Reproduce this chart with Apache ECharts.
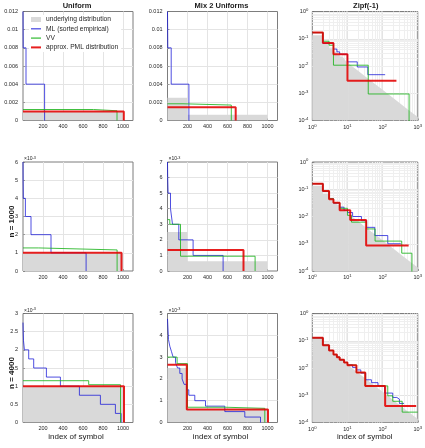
<!DOCTYPE html>
<html>
<head>
<meta charset="utf-8">
<script src="https://cdn.jsdelivr.net/npm/echarts@6/dist/echarts.min.js"></script>
<style>
  html, body { margin: 0; padding: 0; background: #fff; }
  #chart { width: 425px; height: 448px; }
</style>
</head>
<body>
<div id="chart"></div>
<script>
const FONT = "'Liberation Sans', Arial, Helvetica, sans-serif";

const colTitles = ["Uniform", "Mix 2 Uniforms", "Zipf(-1)"];
const rowLabels = ["", "n = 1000", "n = 4000"];
const xLabel = "index of symbol";
const names = ["underlying distribution", "ML (sorted empirical)", "VV", "approx. PML distribution"];

// every curve is a stair: [first symbol index, probability] pairs
const uniformTrue = [[0, 0.001], [1000, 0]];
const mixTrue = [[0, 0.0025], [200, 0.000625], [1000, 0]];
const zipfTrueHead = [[1, 0.1336], [2, 0.0668], [3, 0.0445], [4, 0.0334], [5, 0.0267], [6, 0.0223], [7, 0.0191], [8, 0.0167], [9, 0.0148], [10, 0.0134], [11, 0.0121]];
const zipfTrueTail = [[11, 0.0121], [20, 0.00668], [50, 0.00267], [100, 0.001336], [200, 0.000668], [500, 0.000267], [1000, 0.0001336]];

// top row (small sample)
const uniA_ml = [[0, 0.012], [2, 0.008], [30, 0.004], [216, 0]];
const uniA_vv = [[0, 0.00121], [705, 0.00107], [940, 0]];
const uniA_pml = [[0, 0.00099], [1008, 0]];
const mixA_ml = [[0, 0.012], [3, 0.008], [37, 0.004], [214, 0]];
const mixA_vv = [[0, 0.00184], [155, 0.0017], [638, 0]];
const mixA_pml = [[0, 0.00147], [682, 0]];
const zipfA_ml = [[1, 0.168], [2, 0.068], [4, 0.042], [5, 0.033], [6, 0.027], [10, 0.0142], [19, 0.0092], [38, 0.0048], [118, 0.0048]];
const zipfA_vv = [[1, 0.168], [2, 0.081], [3, 0.058], [4, 0.0107], [39, 0.00094], [566, 0.00001]];
const zipfA_pml = [[1, 0.17], [2, 0.07], [4, 0.027], [10, 0.0029], [247, 0.0029]];

// n = 1000
const uniB_ml = [[0, 0.006], [1, 0.005], [3, 0.004], [24, 0.003], [80, 0.002], [280, 0.001], [631, 0]];
const uniB_vv = [[0, 0.00127], [157, 0.00116], [941, 0]];
const uniB_pml = [[0, 0.001], [985, 0]];
const mixB_ml = [[0, 0.007], [2, 0.006], [6, 0.005], [30, 0.004], [50, 0.003], [113, 0.002], [256, 0.001], [556, 0]];
const mixB_vv = [[0, 0.0033], [23, 0.003], [130, 0.00095], [876, 0]];
const mixB_pml = [[0, 0.00135], [760, 0]];
const zipfB_ml = [[1, 0.16], [2, 0.083], [3, 0.045], [4, 0.031], [6, 0.022], [8, 0.017], [10, 0.014], [14, 0.01], [25, 0.007], [35, 0.004], [60, 0.002], [140, 0.001], [330, 0.001]];
const zipfB_vv = [[1, 0.16], [2, 0.086], [3, 0.045], [4, 0.032], [6, 0.02], [10, 0.011], [13, 0.0062], [35, 0.0035], [61, 0.00125], [350, 0.00045], [680, 0.00001]];
const zipfB_pml = [[1, 0.16], [2, 0.086], [3, 0.0427], [4, 0.032], [6, 0.0168], [12, 0.0074], [34, 0.00087], [550, 0.00087]];

// n = 4000
const uniC_ml = [[0, 0.00275], [2, 0.0025], [5, 0.00225], [14, 0.002], [57, 0.00175], [107, 0.0015], [234, 0.00125], [374, 0.001], [564, 0.00075], [774, 0.0005], [924, 0.00025], [981, 0]];
const uniC_vv = [[0, 0.00115], [657, 0.00104], [975, 0]];
const uniC_pml = [[0, 0.001], [1010, 0]];
const mixC_ml = [[0, 0.00475], [10, 0.0038], [23, 0.0035], [40, 0.00325], [56, 0.003], [80, 0.00275], [100, 0.0025], [123, 0.00225], [146, 0.002], [166, 0.00175], [190, 0.0015], [213, 0.00125], [273, 0.001], [380, 0.00075], [573, 0.0005], [773, 0.00025], [930, 0]];
const mixC_vv = [[0, 0.003], [96, 0.0027], [200, 0.0007], [583, 0.00065], [973, 0]];
const mixC_pml = [[0, 0.00265], [193, 0.0006], [1005, 0]];
const zipfC_ml = [[1, 0.128], [2, 0.069], [3, 0.044], [4, 0.031], [5, 0.025], [6, 0.02], [8, 0.016], [10, 0.013], [14, 0.0105], [18, 0.0085], [24, 0.0065], [33, 0.0037], [48, 0.0029], [74, 0.0022], [114, 0.0012], [194, 0.00083], [254, 0.00072], [300, 0.0005], [406, 0.0005]];
const zipfC_vv = [[1, 0.128], [2, 0.069], [3, 0.044], [4, 0.031], [5, 0.025], [6, 0.02], [8, 0.016], [10, 0.0128], [18, 0.0068], [32, 0.0022], [140, 0.00095], [194, 0.0006], [360, 0.00024], [1000, 0.00024]];
const zipfC_pml = [[1, 0.128], [2, 0.069], [3, 0.044], [4, 0.031], [5, 0.025], [6, 0.02], [8, 0.016], [10, 0.0125], [18, 0.0068], [32, 0.0022], [118, 0.0004], [900, 0.0004]];

const estimates = [
  [[uniA_ml, uniA_vv, uniA_pml], [mixA_ml, mixA_vv, mixA_pml], [zipfA_ml, zipfA_vv, zipfA_pml]],
  [[uniB_ml, uniB_vv, uniB_pml], [mixB_ml, mixB_vv, mixB_pml], [zipfB_ml, zipfB_vv, zipfB_pml]],
  [[uniC_ml, uniC_vv, uniC_pml], [mixC_ml, mixC_vv, mixC_pml], [zipfC_ml, zipfC_vv, zipfC_pml]],
];
const truths = [[uniformTrue], [mixTrue], [zipfTrueHead, zipfTrueTail]];

// layout
const colLeft = [23, 167.5, 312.3];
const rowTop = [11.5, 162, 313.5];
const plotW = [110, 110, 109];
const plotH = 109;
// [max, step, label scale] of the linear y axes
const yRange = [
  [[0.012, 0.002, 1], [0.012, 0.002, 1]],
  [[0.006, 0.001, 1000], [0.007, 0.001, 1000]],
  [[0.003, 0.0005, 1000], [0.005, 0.001, 1000]],
];

const gray = "#d9d9d9";
const colors = ["rgba(20,20,215,0.75)", "rgba(30,180,30,0.85)", "rgba(228,0,0,0.88)"];
const widths = [1, 1, 2];
const gridColor = "#e4e4e4";
const minorColor = "#efefef";

const tickLabel = { fontSize: 5.5, fontFamily: FONT, color: "#262626" };
const powRich = {
  b: { fontSize: 5.5, fontFamily: FONT, color: "#262626" },
  s: { fontSize: 4.2, fontFamily: FONT, color: "#262626", verticalAlign: "bottom", padding: [0, 0, 3.5, 0] },
};
const powLabel = (v) => "{b|10}{s|" + Math.round(Math.log10(v)) + "}";

const grid = [], xAxis = [], yAxis = [], series = [];

for (let r = 0; r < 3; r++) {
  for (let c = 0; c < 3; c++) {
    const k = grid.length;
    const isLog = c === 2;
    grid.push({
      left: colLeft[c], top: rowTop[r], width: plotW[c], height: plotH,
      show: true, borderColor: "#7d7d7d", borderWidth: 1, backgroundColor: "#fff",
    });
    const common = {
      gridIndex: k,
      axisLine: { show: false },
      axisTick: { inside: true, length: 2, lineStyle: { color: "#666", width: 0.6 } },
      splitLine: { show: true, showMinLine: false, showMaxLine: false, lineStyle: { color: gridColor, width: 1 } },
    };
    if (isLog) {
      xAxis.push(Object.assign({}, common, {
        type: "log", logBase: 10, min: 1, max: 1000,
        axisLabel: { margin: 3, formatter: powLabel, rich: powRich },
      }));
      yAxis.push(Object.assign({}, common, {
        type: "log", logBase: 10, min: 0.0001, max: 1,
        axisLabel: { margin: 4, formatter: powLabel, rich: powRich },
      }));
      // minor grid lines at 2..9 of every decade
      const mx = [], my = [];
      for (let d = 0; d < 4; d++) {
        for (let m = 2; m < 10; m++) {
          if (d < 3) mx.push({ xAxis: m * Math.pow(10, d) });
          my.push({ yAxis: m * Math.pow(10, d - 4) });
        }
      }
      series.push({
        type: "line", xAxisIndex: k, yAxisIndex: k, data: [], z: 1, silent: true,
        markLine: {
          silent: true, symbol: ["none", "none"], animation: false, z: 1,
          label: { show: false },
          lineStyle: { color: minorColor, width: 1, type: "solid" },
          data: mx.concat(my),
        },
      });
    } else {
      const [yMax, yStep, scale] = yRange[r][c];
      xAxis.push(Object.assign({}, common, {
        type: "value", min: 0, max: 1100, interval: 200,
        axisLabel: Object.assign({ margin: 3, showMinLabel: false, showMaxLabel: false, formatter: (v) => String(v) }, tickLabel),
      }));
      yAxis.push(Object.assign({}, common, {
        type: "value", min: 0, max: yMax, interval: yStep,
        axisLabel: Object.assign({ margin: 5, formatter: (v) => String(+(v * scale).toFixed(4)) }, tickLabel),
      }));
    }

    truths[c].forEach((d, j) => {
      series.push({
        name: names[0], type: "line", xAxisIndex: k, yAxisIndex: k, data: d,
        step: isLog && j === 1 ? false : "end",
        symbol: "none", silent: true, z: 2,
        lineStyle: { width: 0 }, itemStyle: { color: gray },
        areaStyle: { color: gray, opacity: 1, origin: "start" },
      });
    });
    estimates[r][c].forEach((d, j) => {
      series.push({
        name: names[j + 1], type: "line", xAxisIndex: k, yAxisIndex: k, data: d,
        step: "end", symbol: "none", z: 3 + j,
        lineStyle: { color: colors[j], width: widths[j] }, itemStyle: { color: colors[j] },
      });
    });
  }
}

// titles and axis labels
const graphic = [];
const txt = (text, x, y, font, extra) => Object.assign({
  type: "text", x, y, silent: true,
  style: { text, font, fill: "#1a1a1a", align: "center", verticalAlign: "middle", textAlign: "center", textVerticalAlign: "middle" },
}, extra || {});

colTitles.forEach((t, c) => graphic.push(txt(t, colLeft[c] + plotW[c] / 2 - 1, 5.5, `bold 7.5px ${FONT}`)));
rowLabels.forEach((t, r) => {
  if (t) graphic.push(txt(t, 11.5, rowTop[r] + plotH / 2 + 5, `bold 8px ${FONT}`, { rotation: Math.PI / 2 }));
});
colTitles.forEach((t, c) => graphic.push(txt(xLabel, colLeft[c] + plotW[c] / 2 - 2, 437, `8px ${FONT}`)));
for (let r = 1; r < 3; r++) {
  for (let c = 0; c < 2; c++) {
    graphic.push({
      type: "text", x: colLeft[c] + 1, y: rowTop[r] - 3, silent: true,
      style: {
        text: "{a|×10}{b|-3}", align: "left", verticalAlign: "middle", textAlign: "left", textVerticalAlign: "middle",
        rich: {
          a: { fontSize: 5, fontFamily: FONT, fill: "#262626", color: "#262626" },
          b: { fontSize: 3.8, fontFamily: FONT, fill: "#262626", color: "#262626", verticalAlign: "bottom", padding: [0, 0, 3, 0] },
        },
      },
    });
  }
}

const chart = echarts.init(document.getElementById("chart"));
chart.setOption({
  animation: false,
  backgroundColor: "#fff",
  grid, xAxis, yAxis, series, graphic,
  legend: {
    left: 29, top: 15, orient: "vertical",
    itemWidth: 10, itemHeight: 5, itemGap: 2.3,
    padding: [1, 3, 1, 2], backgroundColor: "#fff",
    textStyle: { fontSize: 6.7, fontFamily: FONT, color: "#262626" },
    data: [
      { name: names[0], icon: "rect" },
      { name: names[1], icon: "path://M0,0H10V1.3H0Z" },
      { name: names[2], icon: "path://M0,0H10V1.3H0Z" },
      { name: names[3], icon: "path://M0,0H10V2H0Z" },
    ],
  },
});
</script>
</body>
</html>
